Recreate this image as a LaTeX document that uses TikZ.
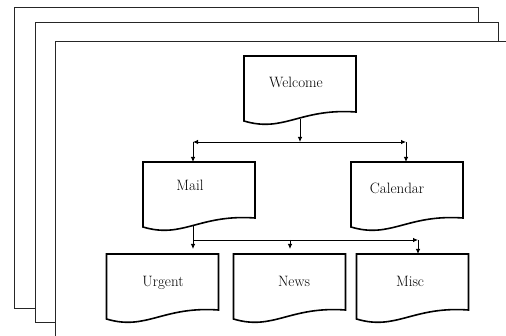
\documentclass[tikz,border=0pt]{standalone}
\usetikzlibrary{arrows.meta,calc}
\newcommand\docshape[1]{\path[docline] (#1.north west) -- (#1.north east) -- ($(#1.south east)+(0,-9)$) .. controls ($(#1.south east)+(-56,-13)$) and ($(#1.south west)+(40,12)$) .. (#1.south west) -- cycle;}
\begin{document}
\begin{tikzpicture}[x=1pt,y=-1pt,
  page/.style={draw=black!85, fill=white, line width=0.9pt},
  doc/.style={draw=none, minimum width=112pt, minimum height=65pt, inner sep=0pt, outer sep=0pt},
  docline/.style={draw=black, line width=1.6pt, fill=white, line join=miter},
  lbl/.style={font=\fontsize{15}{18}\selectfont, anchor=base, inner sep=0pt},
  conn/.style={draw=black, line width=0.8pt},
  arr/.style={conn, -{Latex[length=5pt,width=4.5pt]}}]
\useasboundingbox (0,0) rectangle (506,336);
\clip (0,0) rectangle (506,336);
\fill[white] (0,0) rectangle (506,336);
% stacked pages
\draw[page] (14,7) rectangle (478,308);
\draw[page] (35,22) rectangle (498,322);
\draw[page] (55,41) rectangle (520,350);
% document boxes
\node[doc] (welcome) at (300,88.5) {};
\node[doc] (mail) at (199,194.5) {};
\node[doc] (calendar) at (407,194.5) {};
\node[doc] (urgent) at (162.5,286.5) {};
\node[doc] (news) at (289.5,286.5) {};
\node[doc] (misc) at (412.5,286.5) {};
\docshape{welcome}
\docshape{mail}
\docshape{calendar}
\docshape{urgent}
\docshape{news}
\docshape{misc}
% labels
\node[lbl] (welcomeT) at (296,87.3) {Welcome};
\node[lbl] (mailT) at (190,190.7) {Mail};
\node[lbl] (calendarT) at (397,194) {Calendar};
\node[lbl] (urgentT) at (163,286.7) {Urgent};
\node[lbl] (newsT) at (294,286.7) {News};
\node[lbl] (miscT) at (410,286.7) {Misc};
% connectors level 1
\coordinate (j1) at (300,142);
\coordinate (cl) at (193,142);
\coordinate (cr) at (406,142);
\draw[arr] ($(welcome.south)+(0,-2)$) -- (j1);
\draw[arr] (j1) -- (cl);
\draw[arr] (j1) -- (cr);
\draw[arr] (cl) -- (cl |- mail.north);
\draw[arr] (cr) -- (cr |- calendar.north);
% connectors level 2
\coordinate (j2) at (193,240);
\coordinate (m2) at (290,240);
\coordinate (cr2) at (418,240);
\draw[conn] ($(mail.south -| j2)+(0,-2)$) -- (j2);
\draw[arr] (j2) -- (cr2);
\draw[arr] (cr2) -- (cr2 |- misc.north);
\draw[arr] (j2) -- ($(j2 |- urgent.north)+(0,-5)$);
\draw[arr] (m2) -- ($(m2 |- news.north)+(0,-5)$);
\end{tikzpicture}
\end{document}
